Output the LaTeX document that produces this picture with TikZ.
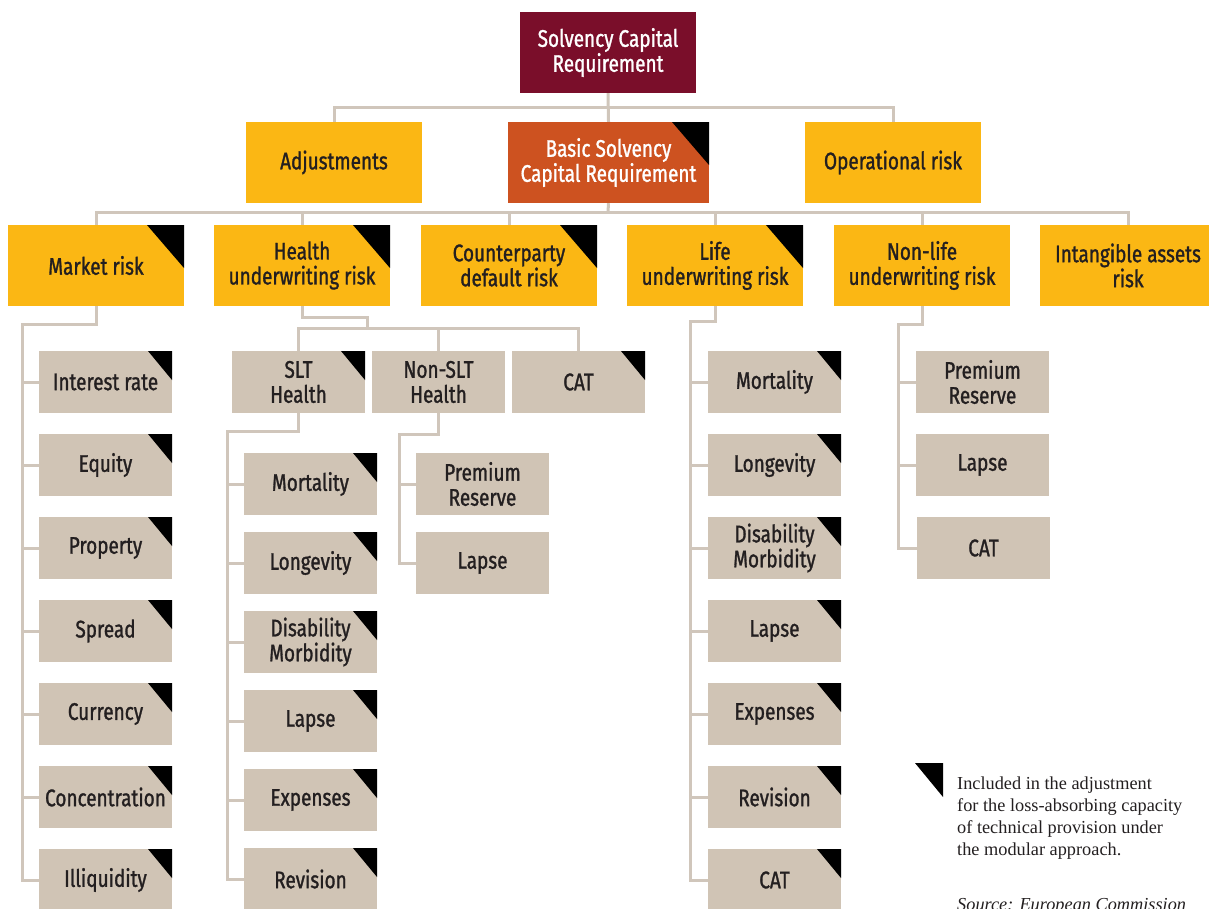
\documentclass[tikz,border=0pt]{standalone}
\usepackage{fontspec}
\newfontfamily\boxfont{Fira Sans}[FakeStretch=0.79,FakeBold=1.2]
\newfontfamily\legfont{Liberation Serif}
\definecolor{mcol}{HTML}{7A0E2A}
\definecolor{ocol}{HTML}{CD5220}
\definecolor{ycol}{HTML}{FBB714}
\definecolor{bcol}{HTML}{D0C4B5}
\definecolor{lcol}{HTML}{D0C6BB}
\definecolor{tcol}{HTML}{231F20}
\begin{document}
\begin{tikzpicture}[x=1pt,y=-1pt,
  ln/.style={draw=lcol,line width=3pt},
  bx/.style={inner sep=0pt,align=center,text=tcol,font=\boxfont\fontsize{24}{25}\selectfont},
  lvl/.style={bx,fill=ycol,minimum width=176pt,minimum height=81pt},
  sub/.style={bx,fill=bcol,minimum width=133pt,minimum height=62pt},
  mkbig/.style={path picture={\fill[black] (path picture bounding box.north east) -- ++(-37pt,0pt) -- ++(37pt,-43pt) -- cycle;}},
  mk/.style={path picture={\fill[black] (path picture bounding box.north east) -- ++(-24pt,0pt) -- ++(24pt,-29pt) -- cycle;}}
]
\useasboundingbox (0,0) rectangle (1209,908);
% level 0 / 1
\node[lvl,fill=mcol,text=white] (scr) at (608,52.5) {Solvency Capital\\Requirement};
\node[lvl] (adj) at (334,162.5) {Adjustments};
\node[lvl,fill=ocol,text=white,minimum width=201pt,mkbig] (bscr) at (608.5,162.5) {Basic Solvency\\Capital Requirement};
\node[lvl] (op) at (893,162.5) {Operational risk};
% level 2
\node[lvl,mkbig] (market) at (96,265.5) {Market risk};
\node[lvl,mkbig] (health) at (302,265.5) {Health\\underwriting risk};
\node[lvl,mkbig] (cpty) at (509,265.5) {Counterparty\\default risk};
\node[lvl,mkbig] (life) at (715,265.5) {Life\\underwriting risk};
\node[lvl] (nonlife) at (922,265.5) {Non-life\\underwriting risk};
\node[lvl] (intang) at (1128,265.5) {Intangible assets\\risk};
% health groups
\node[sub,mk] (slt) at (298.5,382) {SLT\\Health};
\node[sub] (nonslt) at (438.5,382) {Non-SLT\\Health};
\node[sub,mk] (hcat) at (578.5,382) {CAT};
% market subs
\foreach \t [count=\i] in {Interest rate,Equity,Property,Spread,Currency,Concentration,Illiquidity}
  \node[sub,mk] (mk\i) at (105.5,{382+83*(\i-1)}) {\t};
% SLT subs
\foreach \t [count=\i] in {Mortality,Longevity,{Disability\\Morbidity},Lapse,Expenses,Revision}
  \node[sub,mk] (sl\i) at (310.5,{484+79*(\i-1)}) {\t};
% Non-SLT subs
\node[sub] (ns1) at (482.5,484) {Premium\\Reserve};
\node[sub] (ns2) at (482.5,563) {Lapse};
% life subs
\foreach \t [count=\i] in {Mortality,Longevity,{Disability\\Morbidity},Lapse,Expenses,Revision,CAT}
  \node[sub,mk] (lf\i) at (774.5,{382+83*(\i-1)}) {\t};
% non-life subs
\node[sub] (nl1) at (982.5,382) {Premium\\Reserve};
\node[sub] (nl2) at (982.5,465) {Lapse};
\node[sub] (nl3) at (983.5,548) {CAT};
% connectors top
\coordinate (t0) at (608,107);
\draw[ln] (scr.south) -- (bscr.north);
\draw[ln] (adj.north) |- (t0) -| (op.north);
\coordinate (b0) at (608,212);
\draw[ln] (bscr.south) -- (b0);
\draw[ln] (market.north) |- (b0) -| (intang.north);
\foreach \n in {health,cpty,life,nonlife}
  \draw[ln] (\n.north) -- (\n.north |- b0);
% market
\coordinate (ms) at (22,324);
\draw[ln] (market.south) |- (ms) |- (mk7.west);
\foreach \i in {1,...,6} \draw[ln] (mk\i.west) -- (mk\i.west -| ms);
% health
\coordinate (h1) at (367,317);
\coordinate (hb) at (367,328);
\draw[ln] (health.south) |- (h1) -- (hb);
\draw[ln] (slt.north) |- (hb) -| (hcat.north);
\draw[ln] (nonslt.north) -- (nonslt.north |- hb);
% SLT
\coordinate (ss) at (227,431);
\draw[ln] (slt.south) |- (ss) |- (sl6.west);
\foreach \i in {1,...,5} \draw[ln] (sl\i.west) -- (sl\i.west -| ss);
% Non-SLT
\coordinate (nss) at (399,434);
\draw[ln] (nonslt.south) |- (nss) |- (ns2.west);
\draw[ln] (ns1.west) -- (ns1.west -| nss);
% life
\coordinate (ls) at (690,321);
\draw[ln] (life.south) |- (ls) |- (lf7.west);
\foreach \i in {1,...,6} \draw[ln] (lf\i.west) -- (lf\i.west -| ls);
% non-life
\coordinate (nls) at (898,324);
\draw[ln] (nonlife.south) |- (nls) |- (nl3.west);
\foreach \i in {1,2} \draw[ln] (nl\i.west) -- (nl\i.west -| nls);
% legend
\fill[black] (915,763) -- (943,763) -- (943,797) -- cycle;
\node[anchor=north west,inner sep=0pt,align=left,text=tcol,font=\legfont\fontsize{18.3}{21.7}\selectfont] (leg) at (957,777)
  {Included in the adjustment\\for the loss-absorbing capacity\\of technical provision under\\the modular approach.};
\node[anchor=base west,inner sep=0pt,text=tcol,font=\legfont\itshape\fontsize{18.3}{21.7}\selectfont] (src) at (957,910) {Source: European Commission};
\end{tikzpicture}
\end{document}
